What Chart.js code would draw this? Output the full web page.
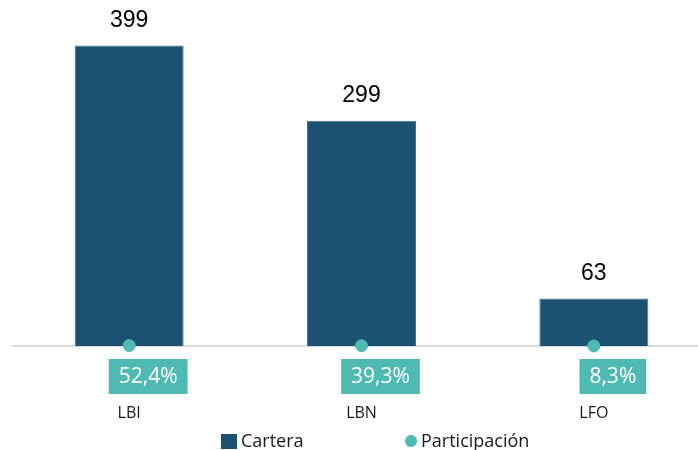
<!DOCTYPE html>
<html>
<head>
<meta charset="utf-8">
<script src="https://cdn.jsdelivr.net/npm/chart.js@4.4.1/dist/chart.umd.min.js"></script>
<style>
    html, body { margin: 0; padding: 0; background: #ffffff; overflow: hidden; }
    #wrap { width: 717px; height: 450px; }
</style>
</head>
<body>
<div id="wrap"><canvas id="cartera-chart" width="717" height="450"></canvas></div>
<script>
const categorias = ['LBI', 'LBN', 'LFO'];
const cartera = [399, 299, 63];
const participacion = [0.524, 0.393, 0.083];

const colorCartera = '#1b5272';
const colorParticipacion = '#4fbab2';

function formatPct(v) {
    return (v * 100).toFixed(1).replace('.', ',') + '%';
}

// value labels above bars + teal boxes below the points + legend
const labelsPlugin = {
    id: 'labelsPlugin',
    afterDatasetsDraw(chart) {
        const ctx = chart.ctx;
        ctx.save();

        // numbers above bars
        const barMeta = chart.getDatasetMeta(0);
        ctx.font = '23px "Liberation Sans", Arial, sans-serif';
        ctx.fillStyle = '#000000';
        ctx.textAlign = 'center';
        ctx.textBaseline = 'middle';
        barMeta.data.forEach((bar, i) => {
            ctx.fillText(String(cartera[i]), bar.x, bar.y - 25);
        });

        // percentage boxes
        const ptMeta = chart.getDatasetMeta(1);
        const base = chart.scales.y.getPixelForValue(0);
        ctx.font = '21px "Open Sans", sans-serif';
        ptMeta.data.forEach((pt, i) => {
            const txt = formatPct(participacion[i]);
            const w = ctx.measureText(txt).width + 20;
            const cx = pt.x + 19;
            const top = base + 13;
            ctx.fillStyle = colorParticipacion;
            ctx.fillRect(cx - w / 2, top, w, 35);
            ctx.fillStyle = '#ffffff';
            ctx.fillText(txt, cx, top + 18);
        });

        // legend
        ctx.textAlign = 'left';
        ctx.font = '18px "Open Sans", sans-serif';
        ctx.fillStyle = colorCartera;
        ctx.fillRect(221, 434, 16, 15);
        ctx.fillStyle = '#1a1a1a';
        ctx.fillText(chart.data.datasets[0].label, 241, 442);
        ctx.fillStyle = colorParticipacion;
        ctx.beginPath();
        ctx.arc(411, 441, 6, 0, Math.PI * 2);
        ctx.fill();
        ctx.fillStyle = '#1a1a1a';
        ctx.fillText(chart.data.datasets[1].label, 421, 442);

        ctx.restore();
    }
};

new Chart(document.getElementById('cartera-chart'), {
    type: 'bar',
    data: {
        labels: categorias,
        datasets: [{
            label: 'Cartera',
            data: cartera,
            backgroundColor: colorCartera,
            borderColor: '#3f6f8c',
            borderWidth: 1,
            categoryPercentage: 1,
            barPercentage: 0.469,
            order: 2
        }, {
            type: 'line',
            label: 'Participación',
            data: participacion,
            showLine: false,
            clip: false,
            pointRadius: 6,
            pointHoverRadius: 6,
            pointBackgroundColor: colorParticipacion,
            pointBorderColor: colorParticipacion,
            order: 1
        }]
    },
    options: {
        responsive: false,
        animation: false,
        layout: { padding: { left: 13, right: 0, top: 0, bottom: 29 } },
        scales: {
            x: {
                grid: { display: false, drawTicks: false },
                border: { display: true, color: '#d9d9d9', width: 2 },
                ticks: {
                    padding: 58,
                    color: '#1a1a1a',
                    font: { family: '"Open Sans", sans-serif', size: 16 }
                },
                afterFit(scale) {
                    scale.height = 75;
                }
            },
            y: {
                display: false,
                min: 0,
                max: 450
            }
        },
        plugins: {
            legend: { display: false },
            tooltip: { enabled: false }
        }
    },
    plugins: [labelsPlugin]
});
</script>
</body>
</html>
